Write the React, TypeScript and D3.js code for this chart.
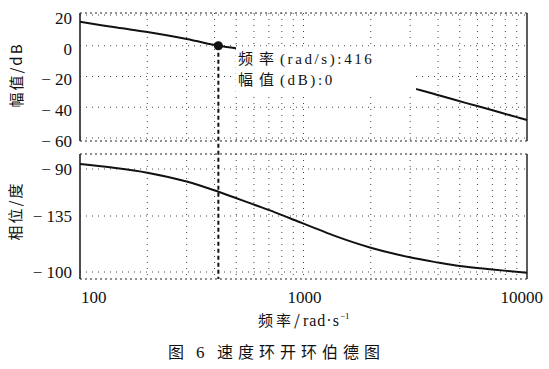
import React from "react";
import * as d3 from "d3";

// ---- data ----
const magFreq = [100, 146, 200, 300, 416, 490, 700, 1000, 1500, 2000, 2500, 3318, 4063, 5357, 6826, 9000, 10000];
const magDb = [15.6, 11.8, 8.9, 4.4, 0, -1.5, -6, -10.5, -16.5, -21, -24.8, -28.8, -32.4, -37.3, -41.5, -46.4, -48.3];

const phFreq = [100, 139, 200, 300, 416, 606, 708, 870, 1410, 2000, 2990, 4000, 5000, 7000, 10000];
const phDeg = [-85.2, -88.6, -93.5, -102, -111.8, -124.5, -129.6, -136.8, -151.6, -160.5, -168.2, -172.4, -175.2, -178, -180.6];

const magTicks = [20, 0, -20, -40, -60];
const magTickLabels = ["20", "0", "\u2212 20", "\u2212 40", "\u2212 60"];
const phTicks = [-90, -135, -180];
const phTickLabels = ["\u2212 90", "\u2212 135", "\u2212 100"];
const xTicks = [100, 1000, 10000];
const xTickLabels = ["100", "1000", "10000"];

const markerFreq = [416];
const markerDb = [0];
const tipLine1Cjk = "频率";
const tipLine1Lat = "(rad/s):416";
const tipLine2Cjk = "幅值";
const tipLine2Lat = "(dB):0";

const yTitleMag = "幅值/dB";
const yTitlePh = "相位/度";
const xTitleCjk = "频率/";
const xTitleLat = "rad·s";
const xTitleSup = "−1";

// ---- layout ----
const W = 549;
const H = 369;
const X0 = 80;
const X1 = 527;
const M_TOP = 13;
const M_BOT = 141;
const P_TOP = 154;
const P_BOT = 279;

const serif = "'Liberation Serif', 'DejaVu Serif', serif";
const cjk = "'Noto Sans CJK SC', 'Liberation Serif', serif";

export default function App() {
  const x = d3.scaleLog().domain([100, 10000]).range([X0, X1]);
  const yMag = d3.scaleLinear().domain([20, -60]).range([15, 138]);
  const yPh = d3.scaleLinear().domain([-90, -135, -180]).range([169, 216, 272]);

  const minor: number[] = [];
  for (const dec of [100, 1000]) {
    for (let k = 2; k <= 9; k++) minor.push(dec * k);
  }
  minor.push(1000);

  const magLine = d3
    .line<number>()
    .x((_, i) => x(magFreq[i]))
    .y((d) => yMag(d))
    .curve(d3.curveCatmullRom.alpha(0.5))(magDb) as string;

  const phLine = d3
    .line<number>()
    .x((_, i) => x(phFreq[i]))
    .y((d) => yPh(d))
    .curve(d3.curveCatmullRom.alpha(0.5))(phDeg) as string;

  const gridStyle = { stroke: "#444", strokeWidth: 1, strokeDasharray: "1 5" };

  const panel = (top: number, bot: number, ticks: number[], ys: (v: number) => number, key: string) => (
    <g key={key}>
      {minor.map((f) => (
        <line key={"v" + f} x1={x(f)} x2={x(f)} y1={top} y2={bot} style={gridStyle} />
      ))}
      {ticks.map((t) => (
        <line key={"h" + t} x1={X0} x2={X1} y1={ys(t)} y2={ys(t)} style={gridStyle} />
      ))}
      <line x1={X0} x2={X1} y1={top} y2={top} stroke="#222" strokeWidth={1.2} strokeDasharray="2 3" />
      <line x1={X0} x2={X1} y1={bot} y2={bot} stroke="#222" strokeWidth={1.2} strokeDasharray="2 3" />
      <line x1={X0} x2={X0} y1={top} y2={bot} stroke="#222" strokeWidth={1.6} />
      <line x1={X1} x2={X1} y1={top} y2={bot} stroke="#333" strokeWidth={1.6} />
    </g>
  );

  const mx = x(markerFreq[0]);
  const my = yMag(markerDb[0]);

  return (
    <svg
      width={W}
      height={H}
      style={{ position: "absolute", left: 0, top: 0, background: "#fff" }}
      xmlns="http://www.w3.org/2000/svg"
    >
      <rect x={0} y={0} width={W} height={H} fill="#fff" />
      {panel(M_TOP, M_BOT, magTicks, yMag, "mag")}
      {panel(P_TOP, P_BOT, phTicks, yPh, "ph")}

      {/* curves */}
      <path d={magLine} fill="none" stroke="#111" strokeWidth={2} />
      <path d={phLine} fill="none" stroke="#111" strokeWidth={2} />

      {/* datatip box hides part of curve */}
      <rect x={236} y={47} width={180} height={46} fill="#fff" />
      <text x={238} y={64} fontSize={15} fill="#111">
        <tspan fontFamily={cjk} letterSpacing={6}>{tipLine1Cjk}</tspan>
        <tspan fontFamily={serif} letterSpacing={2.6}>{tipLine1Lat}</tspan>
      </text>
      <text x={238} y={85} fontSize={15} fill="#111">
        <tspan fontFamily={cjk} letterSpacing={6}>{tipLine2Cjk}</tspan>
        <tspan fontFamily={serif} letterSpacing={2.6}>{tipLine2Lat}</tspan>
      </text>

      {/* marker and dashed drop line */}
      <line x1={mx} x2={mx} y1={my} y2={P_BOT} stroke="#111" strokeWidth={2} strokeDasharray="4 3" />
      <circle cx={mx} cy={my} r={4.5} fill="#111" />

      {/* y tick labels */}
      {magTicks.map((t, i) => (
        <text key={"mt" + t} x={72} y={yMag(t) + 3} dy="0.35em" textAnchor="end" fontFamily={serif} fontSize={17} fill="#111">
          {magTickLabels[i]}
        </text>
      ))}
      {phTicks.map((t, i) => (
        <text key={"pt" + t} x={72} y={yPh(t)} dy="0.35em" textAnchor="end" fontFamily={serif} fontSize={17} fill="#111">
          {phTickLabels[i]}
        </text>
      ))}
      {/* x tick labels */}
      {xTicks.map((t, i) => (
        <text
          key={"xt" + t}
          x={i === 0 ? x(t) + 1 : i === xTicks.length - 1 ? x(t) + 16 : x(t) + 1}
          y={303}
          textAnchor={i === 0 ? "start" : i === xTicks.length - 1 ? "end" : "middle"}
          fontFamily={serif}
          fontSize={17}
          fill="#111"
        >
          {xTickLabels[i]}
        </text>
      ))}

      {/* axis titles */}
      <text
        transform="translate(22,75) rotate(-90)"
        textAnchor="middle"
        fontFamily={cjk}
        fontSize={15}
        letterSpacing={2}
        fill="#111"
      >
        {yTitleMag}
      </text>
      <text
        transform="translate(21,211) rotate(-90)"
        textAnchor="middle"
        fontFamily={cjk}
        fontSize={15}
        letterSpacing={2}
        fill="#111"
      >
        {yTitlePh}
      </text>
      <text x={258} y={326} fontSize={15} fill="#111">
        <tspan fontFamily={cjk} letterSpacing={3}>{xTitleCjk}</tspan>
        <tspan fontFamily={serif} fontSize={16} letterSpacing={1}>{xTitleLat}</tspan>
        <tspan fontFamily={serif} fontSize={9} dy={-7}>{xTitleSup}</tspan>
      </text>

      {/* caption */}
      <text x={168} y={358} fontFamily={cjk} fontSize={16} fill="#111">图</text>
      <text x={196} y={358} fontFamily={serif} fontSize={17} fill="#111">6</text>
      <text x={217} y={358} fontFamily={cjk} fontSize={16} letterSpacing={5} fill="#111">速度环开环伯德图</text>
    </svg>
  );
}
